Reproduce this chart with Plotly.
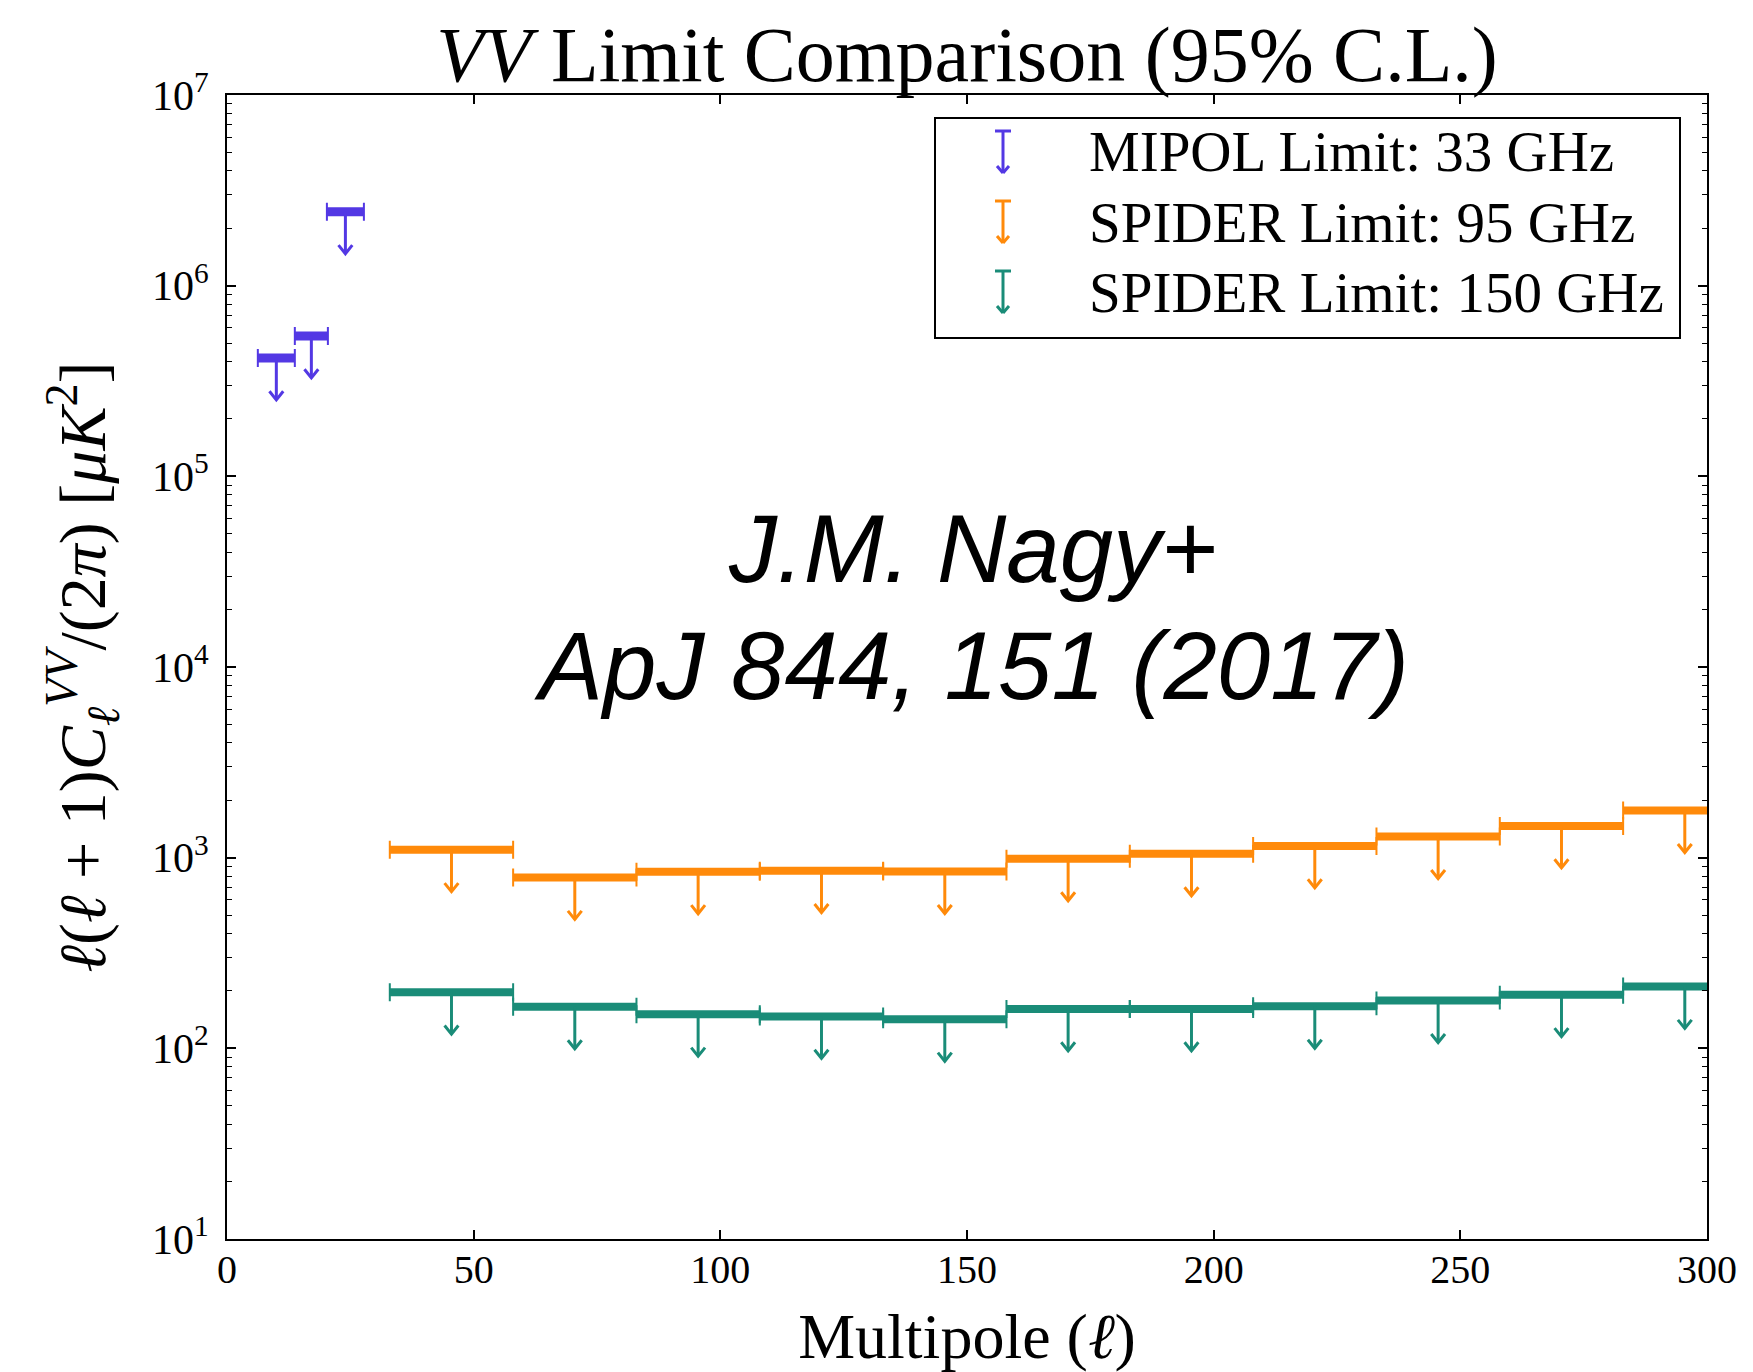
import numpy as np
import plotly.graph_objects as go

# ---- data: 95% C.L. upper limits on l(l+1)C_l^VV/(2pi) [uK^2] ----
# MIPOL 33 GHz
mipol_ell = [10.0, 17.1, 24.0]
mipol_halfwidth = [3.75, 3.35, 3.75]
mipol_limit = [4.18e5, 5.45e5, 2.44e6]

# SPIDER bins (delta ell = 25, starting at ell = 33)
spider_ell = [45.5, 70.5, 95.5, 120.5, 145.5, 170.5, 195.5, 220.5, 245.5, 270.5, 295.5]
spider_halfwidth = [12.5, 12.5, 12.5, 12.5, 12.5, 12.5, 12.5, 12.5, 12.5, 12.5, 12.5]
spider95_limit = [1100, 787, 843, 855, 845, 986, 1047, 1153, 1290, 1468, 1766]
spider150_limit = [197, 165, 151, 147, 142, 161, 161, 166, 178, 191, 211]

series_names = ["MIPOL Limit: 33 GHz", "SPIDER Limit: 95 GHz", "SPIDER Limit: 150 GHz"]
x_ticks = [0, 50, 100, 150, 200, 250, 300]
y_exponents = [1, 2, 3, 4, 5, 6, 7]

# ---- style ----
C_MIPOL = "#5338e4"
C_95 = "#ff8a0a"
C_150 = "#1a8c78"
SERIF = "Liberation Serif, Times New Roman, serif"
SANS = "Liberation Sans, Arial, sans-serif"
ARROW_DROP = 0.22     # arrow length, decades
HEAD_DX = 1.4         # arrowhead half-width, multipole units
HEAD_DY = 0.045       # arrowhead height, decades

W, H = 1753, 1372
ML, MR, MT, MB = 227, 46, 95, 133
PW, PH = W - ML - MR, H - MT - MB


def px_x(p):
    return (p - ML) / PW


def px_y(p):
    return 1 - (p - MT) / PH


fig = go.Figure()


def add_limits(ell, half, vals, color, bar_w, shaft_w, name):
    # thin caps at the bin edges
    fig.add_trace(go.Scatter(
        x=ell, y=vals, mode="markers", name=name,
        marker=dict(size=1, color="rgba(0,0,0,0)"),
        error_x=dict(type="data", array=half, symmetric=True,
                     thickness=2, width=9, color=color),
        hoverinfo="skip", showlegend=False))
    # thick horizontal bin bars
    xs, ys = [], []
    for e, h, v in zip(ell, half, vals):
        xs += [e - h, e + h, None]
        ys += [v, v, None]
    fig.add_trace(go.Scatter(
        x=xs, y=ys, mode="lines", name=name,
        line=dict(color=color, width=bar_w),
        hoverinfo="skip", showlegend=False))
    # downward arrows marking the upper limits
    ax_, ay_ = [], []
    for e, v in zip(ell, vals):
        tip = v * 10 ** (-ARROW_DROP)
        wing = tip * 10 ** HEAD_DY
        ax_ += [e, e, None, e - HEAD_DX, e, e + HEAD_DX, None]
        ay_ += [v, tip, None, wing, tip, wing, None]
    fig.add_trace(go.Scatter(
        x=ax_, y=ay_, mode="lines", name=name,
        line=dict(color=color, width=shaft_w),
        hoverinfo="skip", showlegend=False))


add_limits(mipol_ell, mipol_halfwidth, mipol_limit, C_MIPOL, 9, 3, series_names[0])
add_limits(spider_ell, spider_halfwidth, spider95_limit, C_95, 8, 3, series_names[1])
add_limits(spider_ell, spider_halfwidth, spider150_limit, C_150, 8, 3, series_names[2])

# ---- legend box ----
shapes = [dict(type="rect", xref="paper", yref="paper",
               x0=px_x(935), x1=px_x(1680), y0=px_y(338), y1=px_y(118),
               line=dict(color="black", width=2), fillcolor="white", layer="above")]
annotations = []
legend_rows = [152, 222, 292]
gxp = 1003
for name, color, yc in zip(series_names, [C_MIPOL, C_95, C_150], legend_rows):
    top, tip = yc - 21, yc + 21
    glyph = [((gxp - 8, top), (gxp + 8, top)),
             ((gxp, top), (gxp, tip)),
             ((gxp - 6, tip - 7), (gxp, tip)),
             ((gxp + 6, tip - 7), (gxp, tip))]
    for (x0, y0), (x1, y1) in glyph:
        shapes.append(dict(type="line", xref="paper", yref="paper",
                           x0=px_x(x0), y0=px_y(y0), x1=px_x(x1), y1=px_y(y1),
                           line=dict(color=color, width=3), layer="above"))
    annotations.append(dict(
        x=px_x(1087), y=px_y(yc), xref="paper", yref="paper",
        xanchor="left", yanchor="middle", text=name, showarrow=False,
        font=dict(family=SERIF, size=57, color="black")))

# ---- citation overlay ----
annotations.append(dict(
    x=px_x(973), y=px_y(548), xref="paper", yref="paper",
    text="<i>J.M. Nagy+</i>", showarrow=False,
    font=dict(family=SANS, size=96, color="black")))
annotations.append(dict(
    x=px_x(971), y=px_y(665), xref="paper", yref="paper",
    text="<i>ApJ 844, 151 (2017)</i>", showarrow=False,
    font=dict(family=SANS, size=96, color="black")))

minor_vals = [m * 10 ** k for k in range(1, 7) for m in range(2, 10)]

fig.update_layout(
    width=W, height=H,
    margin=dict(l=ML, r=MR, t=MT, b=MB),
    paper_bgcolor="white", plot_bgcolor="white",
    showlegend=False,
    title=dict(text="<i>VV</i> Limit Comparison (95% C.L.)",
               x=0.5, xref="paper", xanchor="center",
               y=1 - 54 / H, yref="container", yanchor="middle",
               font=dict(family=SERIF, size=78, color="black")),
    xaxis=dict(range=[0, 300], tickvals=x_ticks, ticktext=[str(t) for t in x_ticks],
               ticks="inside", ticklen=9, tickwidth=1.5, tickcolor="black",
               showline=True, linecolor="black", linewidth=2, mirror="allticks",
               showgrid=False, zeroline=False, ticklabelstandoff=-6,
               tickfont=dict(family=SERIF, size=40, color="black"),
               title=dict(text="Multipole (<i>ℓ</i>)", standoff=22,
                          font=dict(family=SERIF, size=64, color="black"))),
    yaxis=dict(type="log", range=[1, 7],
               tickvals=[10 ** k for k in y_exponents],
               ticktext=["10<sup>%d</sup>" % k for k in y_exponents],
               ticks="inside", ticklen=9, tickwidth=1.5, tickcolor="black",
               minor=dict(tickvals=minor_vals, ticks="inside", ticklen=5,
                          tickwidth=1.2, tickcolor="black", showgrid=False),
               showline=True, linecolor="black", linewidth=2, mirror="allticks",
               showgrid=False, zeroline=False, ticklabelstandoff=8,
               tickfont=dict(family=SERIF, size=42, color="black"),
               title=dict(text="<i>ℓ</i>(<i>ℓ</i> + 1)<i>C</i><sub><i>ℓ</i></sub>"
                               "<sup><i>VV</i></sup>/(2<i>π</i>) [<i>μK</i><sup>2</sup>]",
                          standoff=25,
                          font=dict(family=SERIF, size=66, color="black"))),
    annotations=annotations,
    shapes=shapes,
)

fig.write_html("out.html")
